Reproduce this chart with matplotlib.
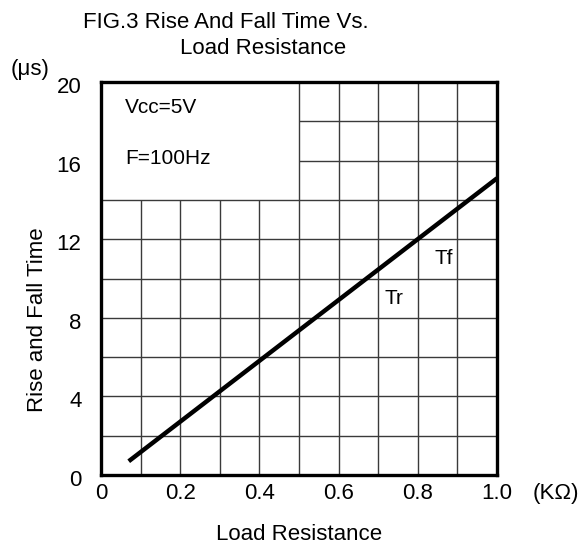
import matplotlib
matplotlib.use("Agg")
import matplotlib.pyplot as plt
import matplotlib.transforms as mtransforms

plt.rcParams['font.family'] = ['Liberation Sans', 'DejaVu Sans']

# Data
load_k = [0.07, 1.0]
time_us = [0.7, 15.1]
x_ticks = [0, 0.2, 0.4, 0.6, 0.8, 1.0]
x_tick_labels = ["0", "0.2", "0.4", "0.6", "0.8", "1.0"]
y_ticks = [0, 4, 8, 12, 16, 20]
y_tick_labels = ["0", "4", "8", "12", "16", "20"]
x_grid = [0.1, 0.2, 0.3, 0.4, 0.5, 0.6, 0.7, 0.8, 0.9]
y_grid = [2, 4, 6, 8, 10, 12, 14, 16, 18]

fig = plt.figure(figsize=(5.81, 5.48), dpi=100)
ax = fig.add_axes([101/581, 1-475/548, 396/581, 393/548])
ax.set_xlim(0, 1.0)
ax.set_ylim(0, 20)

gc = '#3a3a3a'
for xv in x_grid:
    top = 20 if xv >= 0.5 else 14
    ax.vlines(xv, 0, top, color=gc, lw=1.0, zorder=1)
for yv in y_grid:
    left = 0.5 if yv > 14 else 0
    ax.hlines(yv, left, 1.0, color=gc, lw=1.0, zorder=1)

ax.plot(load_k, time_us, color='black', lw=3.2, solid_capstyle='butt', zorder=3)

for s in ax.spines.values():
    s.set_linewidth(2.4)
    s.set_color('black')

ax.set_xticks(x_ticks)
ax.set_xticklabels(x_tick_labels)
ax.set_yticks(y_ticks)
ax.set_yticklabels(y_tick_labels)
ax.tick_params(length=0, labelsize=16)
ax.tick_params(axis='y', pad=14)
ax.tick_params(axis='x', pad=6)

offset = mtransforms.ScaledTranslation(0, -3/100, fig.dpi_scale_trans)
for lab in ax.get_yticklabels():
    lab.set_transform(lab.get_transform() + offset)

ax.text(0.06, 18.7, "Vcc=5V", fontsize=15, va='center', ha='left')
ax.text(0.06, 16.1, "F=100Hz", fontsize=15, va='center', ha='left')
ax.text(0.843, 11.0, "Tf", fontsize=15, va='center', ha='left')
ax.text(0.717, 9.0, "Tr", fontsize=15, va='center', ha='left')

fig.text(226/581, 1-22/548, "FIG.3 Rise And Fall Time Vs.", fontsize=16, ha='center', va='center')
fig.text(263/581, 1-48/548, "Load Resistance", fontsize=16, ha='center', va='center')
fig.text(30/581, 1-70/548, "(μs)", fontsize=16, ha='center', va='center')
fig.text(556/581, 1-493/548, "(KΩ)", fontsize=16, ha='center', va='center')
fig.text(299/581, 1-535/548, "Load Resistance", fontsize=16, ha='center', va='center')
fig.text(38/581, 1-320/548, "Rise and Fall Time", fontsize=16, ha='center', va='center', rotation=90)

fig.savefig("out.png", dpi=100)
